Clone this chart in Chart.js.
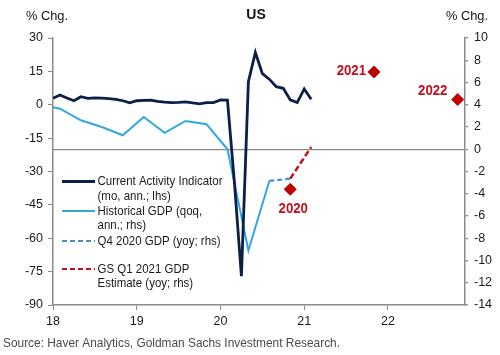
<!DOCTYPE html>
<html>
<head>
<meta charset="utf-8">
<script src="https://cdn.jsdelivr.net/npm/chart.js@4.4.1/dist/chart.umd.min.js"></script>
<style>
html,body{margin:0;padding:0;background:#fff;}
#wrap{width:500px;height:355px;position:relative;}
</style>
</head>
<body>
<div id="wrap"><canvas id="c"></canvas></div>
<script>
// ---- Data ----
const caiMonths = ['2018-01','2018-02','2018-03','2018-04','2018-05','2018-06','2018-07','2018-08','2018-09','2018-10','2018-11','2018-12',
  '2019-01','2019-02','2019-03','2019-04','2019-05','2019-06','2019-07','2019-08','2019-09','2019-10','2019-11','2019-12',
  '2020-01','2020-02','2020-03','2020-04','2020-05','2020-06','2020-07','2020-08','2020-09','2020-10','2020-11','2020-12',
  '2021-01','2021-02'];
const caiValues = [2.9,4.4,3.0,1.8,3.6,2.9,3.1,3.0,2.8,2.4,1.8,0.9,
  1.8,2.0,2.1,1.5,1.2,1.0,1.1,1.3,0.8,0.4,1.0,1.0,
  2.2,2.1,-35,-77,10.4,23.5,14.0,11.5,8.1,7.4,2.2,1.0,
  7.1,2.5];

const gdpQuarters = ['2017-11','2018-02','2018-05','2018-08','2018-11','2019-02','2019-05','2019-08','2019-11','2020-02','2020-05','2020-08'];
const gdpValues = [4.0,3.65,2.6,2.0,1.26,2.9,1.47,2.54,2.25,0.0,-9.1,-2.85];

const q4Months = ['2020-08','2020-11'];
const q4Values = [-2.85,-2.64];

const gsMonths = ['2020-11','2021-02'];
const gsValues = [-2.64,0.2];

const annualLabels = ['2020','2021','2022'];
const annualMonths = ['2020-11','2021-11','2022-11'];
const annualValues = [-3.6,6.95,4.47];

const xTicks = [18,19,20,21,22];
const leftTicks = [-90,-75,-60,-45,-30,-15,0,15,30];
const rightTicks = [-14,-12,-10,-8,-6,-4,-2,0,2,4,6,8,10];

// ---- helpers ----
function toYear(s){const [y,m]=s.split('-').map(Number);return (y-2000)+(m-1)/12;}
function pts(ms,vs){return ms.map((m,i)=>({x:toYear(m),y:vs[i]}));}

const NAVY='#0c1f47', LIGHT='#2fa8df', MIDB='#4a8ccc', RED='#c40f1f';
const FONT='"Liberation Sans", Arial, sans-serif';

function fitText(ctx,txt,x,y,sx,align){
  ctx.save();
  ctx.translate(x,y);
  ctx.scale(sx,1);
  ctx.textAlign=align||'left';
  ctx.fillText(txt,0,0);
  ctx.restore();
}

const overlay = {
  id:'overlay',
  afterDraw(chart){
    const ctx=chart.ctx;
    const yR=chart.scales.yR, x=chart.scales.x;
    ctx.save();
    ctx.textBaseline='middle';
    // headers
    ctx.fillStyle='#111';
    ctx.font='bold 14px '+FONT;
    fitText(ctx,'US',256,15,1,'center');
    ctx.font='13.5px '+FONT;
    fitText(ctx,'% Chg.',26,16,0.95,'left');
    fitText(ctx,'% Chg.',488,16,0.95,'right');
    // source
    ctx.fillStyle='#4a4a4a';
    ctx.font='13px '+FONT;
    const src='Source: Haver Analytics, Goldman Sachs Investment Research.';
    const w=ctx.measureText(src).width;
    fitText(ctx,src,3,343,337/w,'left');
    // legend
    ctx.font='13.5px '+FONT;
    const lw=ctx.measureText('Current Activity Indicator').width;
    const sx=125/lw;
    const items=[
      {y:181.5,color:NAVY,width:2.8,dash:[],lines:['Current Activity Indicator','(mo, ann.; lhs)']},
      {y:211,color:LIGHT,width:2,dash:[],lines:['Historical GDP (qoq,','ann.; rhs)']},
      {y:241,color:MIDB,width:2.2,dash:[5,3],lines:['Q4 2020 GDP (yoy; rhs)']},
      {y:269,color:RED,width:2.2,dash:[5,3],lines:['GS Q1 2021 GDP','Estimate (yoy; rhs)']}
    ];
    items.forEach(it=>{
      ctx.save();
      ctx.strokeStyle=it.color;ctx.lineWidth=it.width;ctx.setLineDash(it.dash);
      ctx.beginPath();ctx.moveTo(62,it.y);ctx.lineTo(95,it.y);ctx.stroke();
      ctx.restore();
      ctx.fillStyle='#1a1a1a';
      it.lines.forEach((t,i)=>fitText(ctx,t,97.5,it.y+i*14.5,sx,'left'));
    });
    // annual labels
    ctx.fillStyle=RED;
    ctx.font='bold 15px '+FONT;
    const px=annualMonths.map(m=>x.getPixelForValue(toYear(m)));
    const py=annualValues.map(v=>yR.getPixelForValue(v));
    fitText(ctx,annualLabels[0],px[0]+3,py[0]+20,0.88,'center');
    fitText(ctx,annualLabels[1],px[1]-8,py[1]-1,0.88,'right');
    fitText(ctx,annualLabels[2],px[2]-25,py[2]-9,0.88,'center');
    ctx.restore();
  }
};

const tickFont={family:FONT,size:12.5};
new Chart(document.getElementById('c'),{
  type:'line',
  data:{datasets:[
    {data:pts(caiMonths,caiValues),yAxisID:'yL',borderColor:NAVY,borderWidth:2.8,pointRadius:0,tension:0},
    {data:pts(gdpQuarters,gdpValues),yAxisID:'yR',borderColor:LIGHT,borderWidth:2,pointRadius:0,tension:0},
    {data:pts(q4Months,q4Values),yAxisID:'yR',borderColor:MIDB,borderWidth:2.2,borderDash:[5,3],pointRadius:0},
    {data:pts(gsMonths,gsValues),yAxisID:'yR',borderColor:RED,borderWidth:2.6,borderDash:[6,3],pointRadius:0},
    {data:pts(annualMonths,annualValues),yAxisID:'yR',showLine:false,pointStyle:'rectRot',pointRadius:6,
      pointBackgroundColor:'#c00000',pointBorderColor:'#c00000',pointBorderWidth:1}
  ]},
  options:{
    responsive:true,maintainAspectRatio:false,animation:false,
    layout:{padding:{top:38,left:0,right:0,bottom:0}},
    plugins:{legend:{display:false},tooltip:{enabled:false}},
    scales:{
      x:{type:'linear',min:18,max:22.92,
        afterBuildTicks:s=>{s.ticks=xTicks.map(v=>({value:v}));},
        afterFit:s=>{s.height=50;},
        ticks:{font:tickFont,color:'#1a1a1a',padding:4,maxRotation:0,callback:v=>String(v)},
        grid:{drawOnChartArea:false,drawTicks:true,tickLength:5,tickColor:'#8a8a8a'},
        border:{display:true,color:'#8a8a8a',width:1.5}
      },
      yL:{position:'left',min:-90,max:30,
        afterBuildTicks:s=>{s.ticks=leftTicks.map(v=>({value:v}));},
        afterFit:s=>{s.width=53;},
        ticks:{font:tickFont,color:'#1a1a1a',padding:5},
        grid:{drawOnChartArea:false,drawTicks:true,tickLength:5,tickColor:'#8a8a8a'},
        border:{display:true,color:'#8a8a8a',width:1.5}
      },
      yR:{position:'right',min:-14,max:10,
        afterBuildTicks:s=>{s.ticks=rightTicks.map(v=>({value:v}));},
        afterFit:s=>{s.width=35;},
        ticks:{font:tickFont,color:'#1a1a1a',padding:6},
        grid:{drawOnChartArea:true,drawTicks:true,tickLength:3,tickColor:'#8a8a8a',
          color:c=>(c.tick&&c.tick.value===0)?'#8a8a8a':'rgba(0,0,0,0)',lineWidth:1.3},
        border:{display:true,color:'#8a8a8a',width:1.5}
      }
    }
  },
  plugins:[overlay]
});
</script>
</body>
</html>
